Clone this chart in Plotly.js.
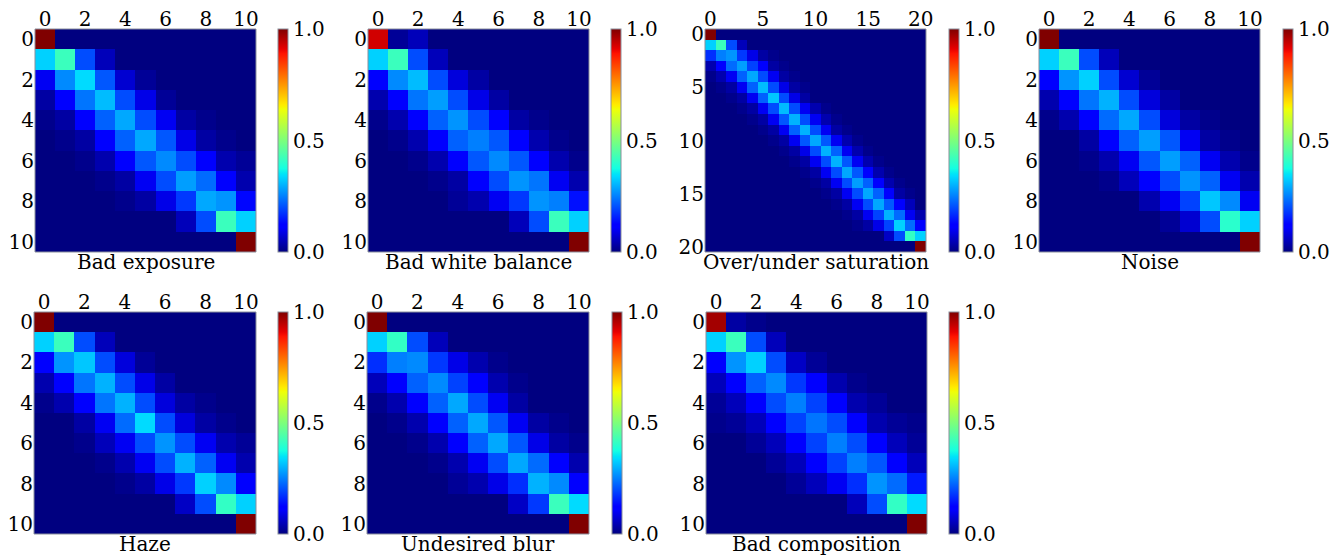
<!DOCTYPE html>
<html><head><meta charset="utf-8">
<script src="https://cdn.plot.ly/plotly-3.0.1.min.js"></script>
<style>body{margin:0;background:#fff}#chart{width:1338px;height:558px}</style>
</head><body><div id="chart"></div>
<script>
const titles = ["Bad exposure","Bad white balance","Over/under saturation","Noise","Haze","Undesired blur","Bad composition"];
const ticks11 = [0,2,4,6,8,10];
const ticks21 = [0,5,10,15,20];
const cbTickVals = [0,0.5,1];
const cbTickText = ["0.0","0.5","1.0"];

const badExposure = [
[1,0,0,0,0,0,0,0,0,0,0],
[0.33,0.42,0.2,0.05,0,0,0,0,0,0,0],
[0.1,0.26,0.34,0.21,0.07,0.02,0,0,0,0,0],
[0.03,0.11,0.24,0.31,0.2,0.09,0.02,0,0,0,0],
[0.01,0.03,0.11,0.22,0.29,0.2,0.1,0.03,0.01,0,0],
[0,0.01,0.03,0.11,0.22,0.29,0.21,0.09,0.03,0.01,0],
[0,0,0.01,0.04,0.11,0.21,0.26,0.2,0.11,0.04,0.02],
[0,0,0,0.01,0.03,0.1,0.2,0.28,0.23,0.11,0.04],
[0,0,0,0,0.01,0.03,0.09,0.18,0.29,0.27,0.13],
[0,0,0,0,0,0,0,0.05,0.2,0.42,0.33],
[0,0,0,0,0,0,0,0,0,0,1]];

const badWhiteBalance = [
[0.93,0.02,0.05,0,0,0,0,0,0,0,0],
[0.33,0.42,0.2,0.05,0,0,0,0,0,0,0],
[0.11,0.26,0.31,0.2,0.08,0.03,0,0,0,0,0],
[0.04,0.12,0.24,0.28,0.2,0.09,0.03,0,0,0,0],
[0.01,0.04,0.11,0.22,0.27,0.2,0.11,0.03,0.01,0,0],
[0,0.01,0.04,0.11,0.22,0.25,0.21,0.11,0.04,0.01,0],
[0,0,0.01,0.04,0.11,0.21,0.26,0.21,0.11,0.04,0.01],
[0,0,0,0.01,0.03,0.11,0.2,0.27,0.24,0.1,0.04],
[0,0,0,0,0.02,0.04,0.1,0.18,0.27,0.25,0.14],
[0,0,0,0,0,0,0,0.05,0.2,0.42,0.33],
[0,0,0,0,0,0,0,0,0,0,1]];

const overUnderSaturation = [
[1,0,0,0,0,0,0,0,0,0,0,0,0,0,0,0,0,0,0,0,0],
[0.33,0.42,0.2,0.05,0,0,0,0,0,0,0,0,0,0,0,0,0,0,0,0,0],
[0.17,0.25,0.27,0.18,0.09,0.03,0.01,0,0,0,0,0,0,0,0,0,0,0,0,0,0],
[0.04,0.11,0.23,0.28,0.19,0.11,0.03,0.01,0,0,0,0,0,0,0,0,0,0,0,0,0],
[0.01,0.04,0.1,0.22,0.29,0.2,0.1,0.03,0.01,0,0,0,0,0,0,0,0,0,0,0,0],
[0,0.01,0.03,0.1,0.22,0.31,0.2,0.09,0.03,0.01,0,0,0,0,0,0,0,0,0,0,0],
[0,0,0.01,0.03,0.1,0.22,0.32,0.2,0.09,0.03,0,0,0,0,0,0,0,0,0,0,0],
[0,0,0,0.01,0.03,0.1,0.2,0.31,0.2,0.1,0.04,0.01,0,0,0,0,0,0,0,0,0],
[0,0,0,0,0.01,0.03,0.1,0.21,0.3,0.2,0.1,0.04,0.01,0,0,0,0,0,0,0,0],
[0,0,0,0,0,0.01,0.03,0.1,0.22,0.3,0.2,0.1,0.03,0.01,0,0,0,0,0,0,0],
[0,0,0,0,0,0,0.01,0.03,0.1,0.21,0.29,0.21,0.1,0.04,0.01,0,0,0,0,0,0],
[0,0,0,0,0,0,0,0.01,0.03,0.09,0.2,0.3,0.22,0.1,0.04,0.01,0,0,0,0,0],
[0,0,0,0,0,0,0,0,0.01,0.03,0.1,0.2,0.3,0.21,0.1,0.04,0.01,0,0,0,0],
[0,0,0,0,0,0,0,0,0,0.01,0.03,0.1,0.2,0.29,0.21,0.11,0.04,0.01,0,0,0],
[0,0,0,0,0,0,0,0,0,0,0.01,0.03,0.1,0.2,0.28,0.22,0.11,0.04,0.01,0,0],
[0,0,0,0,0,0,0,0,0,0,0,0.01,0.03,0.1,0.2,0.29,0.22,0.11,0.03,0.01,0],
[0,0,0,0,0,0,0,0,0,0,0,0,0.01,0.03,0.1,0.2,0.29,0.21,0.11,0.05,0],
[0,0,0,0,0,0,0,0,0,0,0,0,0,0.01,0.03,0.1,0.19,0.3,0.23,0.1,0.04],
[0,0,0,0,0,0,0,0,0,0,0,0,0,0,0.01,0.03,0.09,0.19,0.33,0.23,0.12],
[0,0,0,0,0,0,0,0,0,0,0,0,0,0,0,0,0,0.06,0.2,0.41,0.33],
[0,0,0,0,0,0,0,0,0,0,0,0,0,0,0,0,0,0,0,0,1]];

const noise = [
[1,0,0,0,0,0,0,0,0,0,0],
[0.33,0.42,0.2,0.05,0,0,0,0,0,0,0],
[0.12,0.27,0.33,0.2,0.07,0.02,0,0,0,0,0],
[0.04,0.11,0.24,0.3,0.2,0.08,0.03,0,0,0,0],
[0.01,0.04,0.11,0.23,0.29,0.2,0.08,0.03,0.01,0,0],
[0,0,0.03,0.11,0.22,0.28,0.21,0.1,0.03,0.01,0],
[0,0,0.01,0.04,0.1,0.21,0.28,0.22,0.1,0.04,0.01],
[0,0,0,0.01,0.05,0.11,0.2,0.27,0.22,0.1,0.04],
[0,0,0,0,0,0.04,0.1,0.19,0.32,0.26,0.1],
[0,0,0,0,0,0,0.02,0.07,0.2,0.4,0.33],
[0,0,0,0,0,0,0,0,0,0,1]];

const haze = [
[1,0,0,0,0,0,0,0,0,0,0],
[0.33,0.42,0.2,0.05,0,0,0,0,0,0,0],
[0.12,0.27,0.32,0.2,0.08,0.02,0,0,0,0,0],
[0.04,0.11,0.24,0.3,0.2,0.09,0.03,0,0,0,0],
[0.01,0.04,0.11,0.24,0.3,0.2,0.08,0.03,0.01,0,0],
[0,0,0.03,0.1,0.23,0.34,0.2,0.08,0.03,0.01,0],
[0,0,0.01,0.05,0.1,0.2,0.27,0.2,0.1,0.04,0.02],
[0,0,0,0.01,0.04,0.1,0.2,0.3,0.22,0.1,0.04],
[0,0,0,0,0.01,0.03,0.09,0.18,0.33,0.26,0.11],
[0,0,0,0,0,0,0,0.06,0.2,0.41,0.33],
[0,0,0,0,0,0,0,0,0,0,1]];

const undesiredBlur = [
[1,0,0,0,0,0,0,0,0,0,0],
[0.33,0.41,0.2,0.05,0,0,0,0,0,0,0],
[0.17,0.25,0.26,0.18,0.09,0.04,0.01,0,0,0,0],
[0.05,0.12,0.22,0.26,0.19,0.11,0.04,0.01,0,0,0],
[0.01,0.04,0.11,0.22,0.29,0.2,0.1,0.03,0,0,0],
[0,0.01,0.04,0.11,0.22,0.29,0.21,0.1,0.03,0.01,0],
[0,0,0.01,0.04,0.11,0.22,0.29,0.21,0.09,0.03,0.01],
[0,0,0,0.01,0.04,0.1,0.2,0.29,0.23,0.11,0.04],
[0,0,0,0,0.02,0.04,0.09,0.17,0.3,0.26,0.12],
[0,0,0,0,0,0,0,0.06,0.18,0.42,0.34],
[0,0,0,0,0,0,0,0,0,0,1]];

const badComposition = [
[0.97,0.03,0.01,0,0,0,0,0,0,0,0],
[0.33,0.42,0.2,0.05,0,0,0,0,0,0,0],
[0.12,0.27,0.33,0.2,0.06,0.02,0,0,0,0,0],
[0.05,0.12,0.22,0.26,0.18,0.12,0.04,0.01,0,0,0],
[0.02,0.05,0.11,0.2,0.25,0.19,0.11,0.04,0.02,0,0],
[0.01,0.02,0.05,0.11,0.19,0.24,0.2,0.11,0.04,0.02,0.01],
[0,0,0.02,0.05,0.11,0.19,0.25,0.2,0.11,0.05,0.02],
[0,0,0,0.02,0.05,0.11,0.19,0.25,0.21,0.11,0.05],
[0,0,0,0,0.02,0.05,0.1,0.17,0.27,0.23,0.15],
[0,0,0,0,0,0,0,0.05,0.2,0.41,0.34],
[0,0,0,0,0,0,0,0,0,0,1]];

const matrices = [badExposure, badWhiteBalance, overUnderSaturation, noise, haze, undesiredBlur, badComposition];

// matplotlib "jet" colormap breakpoints
const jetSeg = {
  r: [[0,0],[0.35,0],[0.66,1],[0.89,1],[1,0.5]],
  g: [[0,0],[0.125,0],[0.375,1],[0.64,1],[0.91,0],[1,0]],
  b: [[0,0.5],[0.11,1],[0.34,1],[0.65,0],[1,0]]
};
function segVal(seg, v){
  for (let i=0;i<seg.length-1;i++){
    const [x0,y0]=seg[i],[x1,y1]=seg[i+1];
    if (v>=x0 && v<=x1) return y0+(y1-y0)*(v-x0)/(x1-x0);
  }
  return seg[seg.length-1][1];
}
const stops = [0,0.11,0.125,0.34,0.35,0.375,0.64,0.65,0.66,0.89,0.91,1];
const jet = stops.map(s => [s, `rgb(${Math.round(255*segVal(jetSeg.r,s))},${Math.round(255*segVal(jetSeg.g,s))},${Math.round(255*segVal(jetSeg.b,s))})`]);

const W=1338, H=558;
const panels = [
  {x0:35,x1:256,y0:29,y1:252,cb:278},
  {x0:368,x1:589,y0:29,y1:252,cb:611},
  {x0:705,x1:926,y0:29,y1:252,cb:949},
  {x0:1039,x1:1260,y0:29,y1:252,cb:1283},
  {x0:34,x1:256,y0:312,y1:534,cb:278},
  {x0:367,x1:589,y0:312,y1:534,cb:612},
  {x0:706,x1:927,y0:312,y1:534,cb:949}
];
const FONT = {family:"DejaVu Serif", size:20, color:"#000"};
const FRAME = "#8a8f9c";
const traces=[], annotations=[], shapes=[];
const layout = {width:W,height:H,margin:{l:0,r:0,t:0,b:0},paper_bgcolor:"#fff",plot_bgcolor:"#fff",showlegend:false,font:FONT,annotations,shapes};

matrices.forEach((z,i)=>{
  const p = panels[i];
  const n = z.length;
  const idx = [...Array(n).keys()];
  const sfx = i===0 ? "" : String(i+1);
  const tv = n>11 ? ticks21 : ticks11;
  traces.push({
    type:"heatmap", z:z, x:idx, y:idx,
    xaxis:"x"+sfx, yaxis:"y"+sfx,
    zmin:0, zmax:1, colorscale:jet, hoverinfo:"z",
    colorbar:{
      x:p.cb/W, xanchor:"left", xpad:0, ypad:0,
      y:1-(p.y0+p.y1)/2/H, yanchor:"middle",
      len:p.y1-p.y0, lenmode:"pixels",
      thickness:10, thicknessmode:"pixels",
      outlinewidth:1, outlinecolor:FRAME,
      tickvals:cbTickVals, ticktext:cbTickText, ticks:"",
      tickfont:FONT
    }
  });
  layout["xaxis"+sfx] = {
    domain:[p.x0/W, p.x1/W], anchor:"free", position:1-(p.y0+1)/H, side:"top",
    range:[-0.5,n-0.5], tickvals:tv, ticks:"", showgrid:false, zeroline:false,
    showline:false, tickfont:FONT, fixedrange:true
  };
  layout["yaxis"+sfx] = {
    domain:[1-p.y1/H, 1-p.y0/H], anchor:"x"+sfx,
    range:[n-0.5,-0.5], tickvals:tv, ticks:"", showgrid:false, zeroline:false,
    showline:false, tickfont:FONT, fixedrange:true
  };
  shapes.push({
    type:"rect", xref:"x"+sfx+" domain", yref:"y"+sfx+" domain",
    x0:0, x1:1, y0:0, y1:1, line:{color:FRAME, width:1}, fillcolor:"rgba(0,0,0,0)", layer:"above"
  });
  annotations.push({
    text:titles[i], xref:"paper", yref:"paper",
    x:(p.x0+p.x1)/2/W, y:1-p.y1/H, xanchor:"center", yanchor:"top",
    showarrow:false, font:FONT, yshift:4
  });
});

Plotly.newPlot("chart", traces, layout, {displayModeBar:false, staticPlot:true});
</script>
</body></html>
